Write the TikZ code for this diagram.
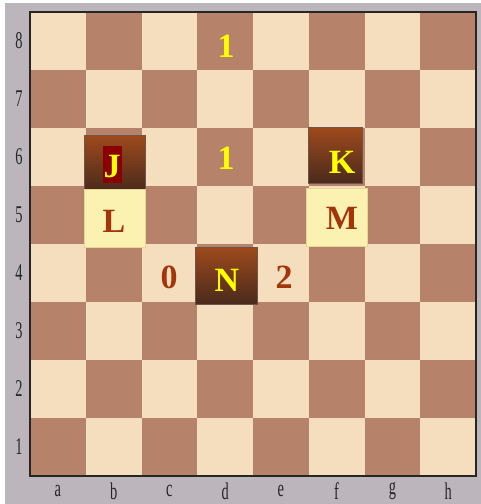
\documentclass[tikz,border=0pt]{standalone}
\usepackage{fontspec}
\setmainfont{Liberation Serif}
\usetikzlibrary{positioning}
\definecolor{frameg}{HTML}{BCB6BC}
\definecolor{sqlight}{HTML}{F5DEBE}
\definecolor{sqdark}{HTML}{B6826A}
\definecolor{pctop}{HTML}{9E4A1C}
\definecolor{pcbot}{HTML}{4A2A1C}
\definecolor{mkfill}{HTML}{FBF2B2}
\definecolor{mkedge}{HTML}{E6D894}
\definecolor{txtbrown}{HTML}{A2360A}
\definecolor{txtyel}{HTML}{FFFF00}
\definecolor{jred}{HTML}{8A0000}

\begin{document}
\begin{tikzpicture}[x=1pt,y=-1pt,
  coord/.style={font=\fontsize{24}{24}\selectfont,text=black!85,xscale=0.6,transform shape,inner sep=0pt},
  piece/.style={top color=pctop,bottom color=pcbot,draw=pcbot!80,inner sep=0pt},
  marksq/.style={fill=mkfill,draw=mkedge,inner sep=0pt},
  lbl/.style={font=\fontsize{34}{34}\selectfont\bfseries,inner sep=0pt}]
\useasboundingbox (0,0) rectangle (481,504);
\fill[white] (0,0) rectangle (481,504);
\fill[frameg] (5,3) rectangle (481,504);
% board squares
\foreach \i in {0,...,7}
  \foreach \j in {0,...,7} {
    \pgfmathtruncatemacro{\sqpar}{mod(\i+\j,2)}
    \ifnum\sqpar=0 \def\sqc{sqdark}\else\def\sqc{sqlight}\fi
    \fill[\sqc] ({30+\i*55.75},{476-(\j+1)*58}) rectangle ({30+(\i+1)*55.75},{476-\j*58});
  }
\draw[black!85,line width=1.2pt] (30,12) rectangle (476,476);
% rank and file labels
\foreach \r in {1,...,8} \node[coord] (rk\r) at (19,{476-(\r-0.5)*58}) {\r};
\foreach \f [count=\k from 0] in {a,b,c,d,e,f,g,h} \node[coord] (fl\f) at ({30+(\k+0.5)*55.75},491) {\f};
% pieces and marked squares
\node[piece,minimum width=61pt,minimum height=56pt] (pJ) at (114.5,163) {};
\node[fill=jred,minimum width=19pt,minimum height=37pt,inner sep=0pt] (jbox) at (112.5,164.5) {};
\node[lbl,text=txtyel] (tJ) at (112,167) {J};
\node[marksq,minimum width=61pt,minimum height=58pt] (mL) at (114.5,218.5) {};
\node[lbl,text=txtbrown] (tL) at (114,221) {L};
\node[piece,minimum width=54pt,minimum height=56pt] (pK) at (335,155) {};
\node[lbl,text=txtyel] (tK) at (342,162) {K};
\node[marksq,minimum width=61pt,minimum height=58pt] (mM) at (336.5,217.5) {};
\node[lbl,text=txtbrown] (tM) at (342,218) {M};
\node[piece,minimum width=62pt,minimum height=57pt] (pN) at (226,275.5) {};
\node[lbl,text=txtyel] (tN) at (227,280) {N};
% move counts
\node[lbl,text=txtbrown] (c0) at (169,277) {0};
\node[lbl,text=txtbrown] (c2) at (284,277) {2};
\node[lbl,text=txtyel] (c1a) at (226,46) {1};
\node[lbl,text=txtyel] (c1b) at (226,158) {1};
\end{tikzpicture}
\end{document}
